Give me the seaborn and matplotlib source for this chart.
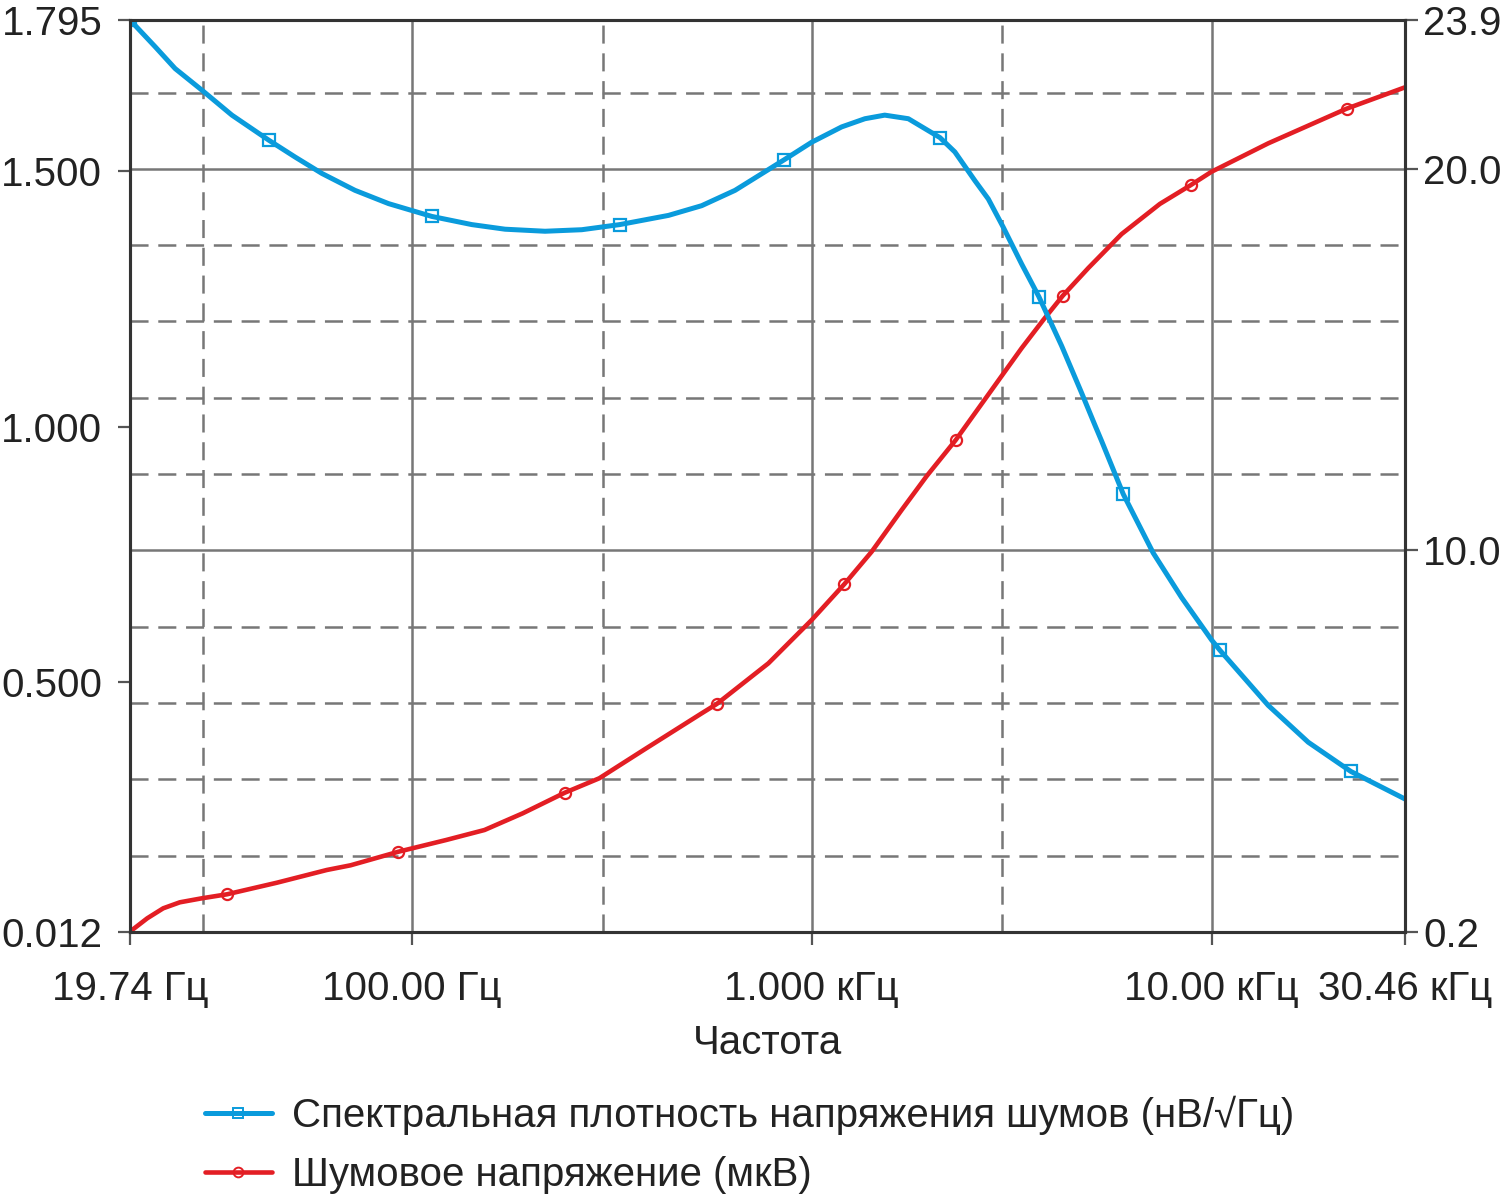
import numpy as np
import pandas as pd
import seaborn as sns
import matplotlib
matplotlib.use('Agg')
import matplotlib.pyplot as plt
from matplotlib.lines import Line2D
from matplotlib.ticker import FixedLocator, NullFormatter

# spectral noise density, nV/sqrt(Hz), left axis
density_freq = [19.74, 22.8, 25.6, 29.85, 35.5, 43.9, 51.1, 59.6, 72.1, 87.5,
                112.2, 141.3, 171.1, 215.4, 266.1, 331.1, 438.5, 530.9, 643.3, 854.6,
                1000, 1188.5, 1358.9, 1523.1, 1744.9, 2093.9, 2281, 2559, 2765.4, 3013,
                3350, 3700, 4217, 4731.5, 5108.5, 5308.8, 6015.1, 7146.6, 8414, 10000,
                10490, 13860, 17450, 22290, 30460]
density_val = [1.795, 1.743, 1.700, 1.658, 1.609, 1.560, 1.527, 1.495, 1.462, 1.436,
               1.411, 1.395, 1.386, 1.382, 1.385, 1.395, 1.413, 1.432, 1.462, 1.522,
               1.556, 1.586, 1.602, 1.609, 1.602, 1.565, 1.537, 1.481, 1.445, 1.390,
               1.318, 1.254, 1.158, 1.066, 1.003, 0.972, 0.868, 0.753, 0.666, 0.583,
               0.563, 0.455, 0.383, 0.326, 0.272]
density_marks = [0, 5, 10, 15, 19, 25, 31, 36, 40, 43]

# integrated noise voltage, uV, right axis
noise_freq = [19.74, 21.8, 23.9, 26.3, 29.85, 34.5, 46.0, 61.3, 70.3, 92.6,
              121.9, 152, 189.4, 241.3, 294.3, 383.4, 530.9, 578.8, 779.4, 1000,
              1207.6, 1412.5, 1678.8, 1939.7, 2290.9, 2661, 2985.4, 3350, 3795, 4242,
              4918, 5957, 7425, 8861, 10000, 13860, 21750, 30460]
noise_val = [0.01, 0.359, 0.621, 0.778, 0.883, 0.988, 1.292, 1.625, 1.748, 2.104,
             2.411, 2.673, 3.11, 3.650, 4.028, 4.796, 5.731, 5.975, 7.041, 8.176,
             9.119, 9.966, 11.059, 11.950, 12.89, 13.84, 14.57, 15.30, 16.04, 16.67,
             17.40, 18.29, 19.08, 19.57, 19.924, 20.668, 21.575, 22.136]
noise_marks = [5, 9, 13, 17, 20, 24, 29, 33, 36]

x_ticks = [19.74, 100, 1000, 10000, 30460]
x_labels = ['19.74 Гц', '100.00 Гц', '1.000 кГц', '10.00 кГц', '30.46 кГц']
x_minor = [30, 300, 3000]
left_ticks = [0.012, 0.5, 1.0, 1.5, 1.795]
left_labels = ['0.012', '0.500', '1.000', '1.500', '1.795']
right_ticks = [0, 10, 20, 23.9]
right_labels = ['0.2', '10.0', '20.0', '23.9']
right_minor = [2, 4, 6, 8, 12, 14, 16, 18, 22]

label_density = 'Спектральная плотность напряжения шумов (нВ/√Гц)'
label_noise = 'Шумовое напряжение (мкВ)'

BLUE = '#0a9bdc'
RED = '#e31e24'
GRID = '#777777'
TXT = '#222222'

sns.set_theme(style='white')
plt.rcParams['font.family'] = ['Liberation Sans', 'DejaVu Sans']
plt.rcParams['lines.scale_dashes'] = False
plt.rcParams['lines.solid_joinstyle'] = 'round'

df_d = pd.DataFrame({'f': density_freq, 'v': density_val})
df_n = pd.DataFrame({'f': noise_freq, 'v': noise_val})

fig = plt.figure(figsize=(15.01, 12), dpi=100)
ax = fig.add_axes([130/1501, 1-932/1200, (1405-130)/1501, (932-20)/1200])
ax2 = ax.twinx()
ax.set_zorder(3)
ax2.set_zorder(1)
ax.patch.set_visible(False)

sns.lineplot(data=df_n, x='f', y='v', ax=ax2, color=RED, lw=3.3, marker='o', markersize=8,
             markerfacecolor='none', markeredgecolor=RED, markeredgewidth=1.6,
             markevery=noise_marks)
sns.lineplot(data=df_d, x='f', y='v', ax=ax, color=BLUE, lw=3.6, marker='s', markersize=8,
             markerfacecolor='none', markeredgecolor=BLUE, markeredgewidth=1.6,
             markevery=density_marks)

ax.set_xscale('log')
ax.set_xlim(19.74, 30460)
ax.set_ylim(0.012, 1.795)
ax2.set_ylim(0, 23.9)

ax.xaxis.set_major_locator(FixedLocator(x_ticks))
ax.xaxis.set_minor_locator(FixedLocator(x_minor))
ax.xaxis.set_minor_formatter(NullFormatter())
ax.set_xticklabels(x_labels)
ax.set_yticks(left_ticks)
ax.set_yticklabels(left_labels)
ax2.set_yticks(right_ticks)
ax2.set_yticklabels(right_labels)
ax2.yaxis.set_minor_locator(FixedLocator(right_minor))

# grid lives on the lower axes so both curves sit on top of it
ax2.xaxis.set_visible(True)
ax2.tick_params(axis='x', which='both', length=0, labelbottom=False, labeltop=False)
ax2.grid(which='major', axis='both', color=GRID, lw=1.8, ls='-')
ax2.grid(which='minor', axis='both', color=GRID, lw=1.8, ls=(0, (13, 7)))
ax.grid(False)

fs = 29
ax.tick_params(axis='x', which='major', direction='out', length=9, width=1.6, color='#555555',
               labelsize=fs, pad=18, bottom=True)
ax.tick_params(axis='x', which='minor', length=0)
ax.tick_params(axis='y', direction='out', length=9, width=1.6, color='#555555',
               labelsize=fs, pad=11, left=True)
ax2.tick_params(axis='y', which='major', direction='out', length=9, width=1.6, color='#555555',
                labelsize=fs, pad=4, right=True)
ax2.tick_params(axis='y', which='minor', length=0)
for a in (ax, ax2):
    for s in a.spines.values():
        s.set_visible(True)
        s.set_color('#333333')
        s.set_linewidth(2.2)
    a.set_ylabel('')
ax.set_xlabel('Частота', fontsize=fs, labelpad=12, color=TXT)
ax2.set_xlabel('')
for t in ax.get_xticklabels() + ax.get_yticklabels() + ax2.get_yticklabels():
    t.set_color(TXT)

handles = [
    Line2D([], [], color=BLUE, lw=3.6, marker='s', markersize=7, markerfacecolor='none',
           markeredgecolor=BLUE, markeredgewidth=1.4),
    Line2D([], [], color=RED, lw=3.3, marker='o', markersize=7, markerfacecolor='none',
           markeredgecolor=RED, markeredgewidth=1.4),
]
fig.legend(handles, [label_density, label_noise], loc='upper left',
           bbox_to_anchor=(205/1501, 1-1096/1200), frameon=False, fontsize=fs,
           handlelength=1.66, handletextpad=0.5, labelspacing=0.52, borderpad=0,
           borderaxespad=0, labelcolor=TXT)

fig.savefig('out.png', dpi=100)
